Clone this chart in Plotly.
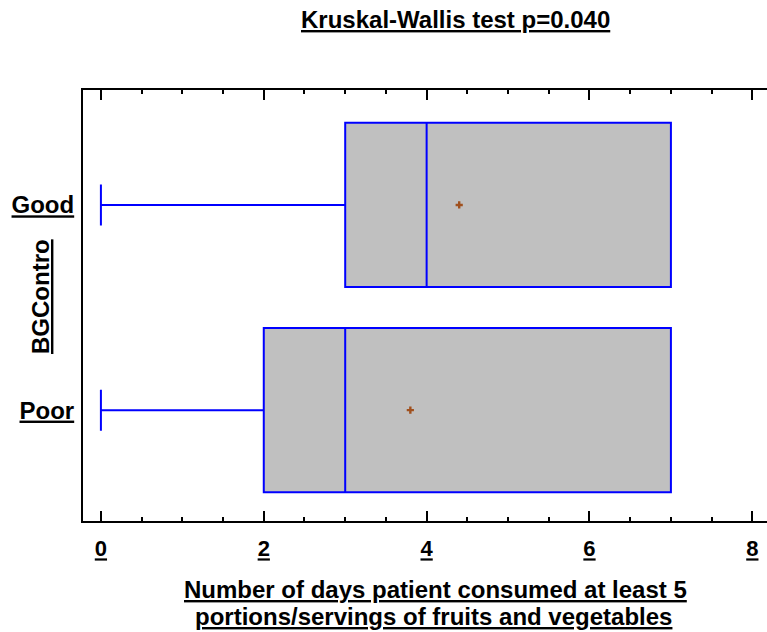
import plotly.graph_objects as go

groups = ["Poor", "Good"]
group_pos = [0, 1]
q1 = [2, 3]
median = [3, 4]
q3 = [7, 7]
lowerfence = [0, 0]
upperfence = [7, 7]
means = [3.8, 4.4]

x_tickvals = [0, 2, 4, 6, 8]
x_ticktext = ["0", "2", "4", "6", "8"]

FONT = "Liberation Sans, Arial, sans-serif"

fig = go.Figure()
for i in range(len(groups)):
    fig.add_trace(go.Box(
        orientation="h",
        y=[group_pos[i]],
        q1=[q1[i]], median=[median[i]], q3=[q3[i]],
        lowerfence=[lowerfence[i]], upperfence=[upperfence[i]],
        width=0.8, whiskerwidth=0.25,
        fillcolor="#c0c0c0",
        line=dict(color="#0000ff", width=2),
        boxpoints=False, hoverinfo="skip", showlegend=False,
    ))

fig.add_trace(go.Scatter(
    x=means, y=group_pos, mode="markers",
    marker=dict(symbol="cross", size=6, color="#a0501e"),
    showlegend=False, hoverinfo="skip",
))

fig.update_layout(
    width=767, height=632,
    margin=dict(l=83, r=0, t=90, b=111),
    paper_bgcolor="white", plot_bgcolor="white",
    showlegend=False,
    xaxis=dict(
        range=[-0.22, 8.18],
        tickvals=x_tickvals,
        ticktext=[f"<b><u>{t}</u></b>" for t in x_ticktext],
        tickfont=dict(family=FONT, size=22, color="black"),
        ticks="inside", ticklen=10, tickwidth=2, tickcolor="black",
        minor=dict(dtick=0.5, ticks="inside", ticklen=4, tickwidth=2, tickcolor="black"),
        showline=True, linecolor="black", linewidth=2, mirror="ticks",
        showgrid=False, zeroline=False,
        ticklabelstandoff=7,
    ),
    yaxis=dict(
        range=[-0.54, 1.56],
        tickvals=group_pos,
        ticktext=[f"<b><u>{g}</u></b>" for g in groups],
        tickfont=dict(family=FONT, size=24, color="black"),
        ticks="", showline=True, linecolor="black", linewidth=2,
        showgrid=False, zeroline=False,
        ticklabelstandoff=2,
    ),
    annotations=[
        dict(text="<b><u>Kruskal-Wallis test p=0.040</u></b>", xref="paper", yref="paper",
             x=(456 - 83) / 684, y=1 + (90 - 19) / 431, xanchor="center", yanchor="middle",
             showarrow=False, font=dict(family=FONT, size=24, color="black")),
        dict(text="<b><u>Number of days patient consumed at least 5</u></b>",
             xref="paper", yref="paper", x=(435 - 83) / 684, y=-(589 - 521) / 431,
             xanchor="center", yanchor="middle",
             showarrow=False, font=dict(family=FONT, size=24, color="black")),
        dict(text="<b><u>portions/servings of fruits and vegetables</u></b>",
             xref="paper", yref="paper", x=(433 - 83) / 684, y=-(616 - 521) / 431,
             xanchor="center", yanchor="middle",
             showarrow=False, font=dict(family=FONT, size=24, color="black")),
        dict(text="<b><u>BGContro</u></b>", xref="paper", yref="paper", x=(40 - 83) / 684,
             y=(521 - 297) / 431, xanchor="center", yanchor="middle", textangle=-90,
             showarrow=False, font=dict(family=FONT, size=24, color="black")),
    ],
)

fig.write_html("out.html", config={"displayModeBar": False},
               post_script="document.body.style.margin='0';")
